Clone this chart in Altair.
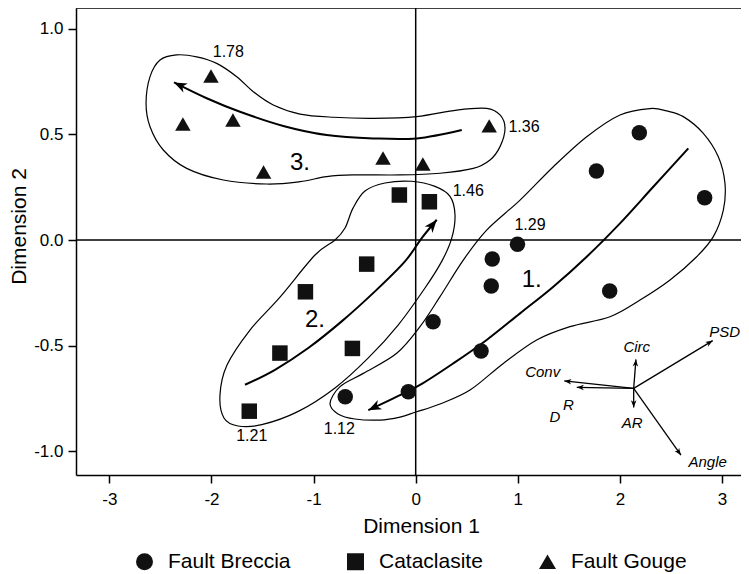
import math
import altair as alt
import pandas as pd

# ---------------- data ----------------
X_MIN, X_MAX = -3.327, 3.186
Y_MIN, Y_MAX = -1.112, 1.098
W, H = 665, 467

categories = ["Fault Breccia", "Cataclasite", "Fault Gouge"]

breccia_x = [2.19, 1.77, 2.83, 0.997, 0.75, 0.74, 1.90, 0.17, 0.64, -0.072, -0.69]
breccia_y = [0.508, 0.327, 0.20, -0.02, -0.09, -0.218, -0.241, -0.387, -0.525, -0.718, -0.742]

catacl_x = [-0.16, 0.134, -0.48, -1.08, -1.33, -0.62, -1.63]
catacl_y = [0.213, 0.181, -0.114, -0.245, -0.535, -0.513, -0.81]

gouge_x = [-2.005, -2.28, -1.79, -1.49, -0.32, 0.07, 0.72]
gouge_y = [0.776, 0.549, 0.568, 0.322, 0.388, 0.36, 0.54]

# group outlines (closed curves)
hull3_x = [-2.641, -2.602, -2.504, -2.341, -2.145, -1.949, -1.753, -1.591, -1.395, -1.133,
           -0.807, -0.415, 0.010, 0.402, 0.695, 0.826, 0.875, 0.826, 0.728, 0.564,
           0.238, -0.154, -0.611, -0.872, -1.133, -1.459, -1.884, -2.243, -2.472, -2.602]
hull3_y = [0.647, 0.773, 0.852, 0.876, 0.867, 0.836, 0.773, 0.702, 0.639, 0.596,
           0.581, 0.576, 0.584, 0.615, 0.623, 0.592, 0.529, 0.442, 0.379, 0.339,
           0.316, 0.308, 0.308, 0.300, 0.276, 0.265, 0.284, 0.339, 0.426, 0.536]

hull2_x = [-0.301, -0.039, 0.189, 0.336, 0.385, 0.353, 0.255, 0.091, -0.170, -0.464,
           -0.790, -1.150, -1.508, -1.740, -1.878, -1.917, -1.848, -1.623, -1.329, -0.986,
           -0.790, -0.692, -0.614, -0.497]
hull2_y = [0.270, 0.278, 0.254, 0.207, 0.120, 0.009, -0.101, -0.227, -0.401, -0.558,
           -0.700, -0.811, -0.874, -0.880, -0.842, -0.734, -0.592, -0.426, -0.270, -0.071,
           0.000, 0.057, 0.151, 0.232]

hull1_x = [2.295, 2.001, 1.675, 1.348, 1.022, 0.695, 0.466, 0.238, 0.042, -0.186,
           -0.513, -0.741, -0.839, -0.761, -0.595, -0.350, -0.154, 0.003, 0.238, 0.532,
           0.858, 1.185, 1.511, 1.903, 2.197, 2.491, 2.752, 2.915, 3.013, 3.029,
           2.964, 2.817, 2.621, 2.458]
hull1_y = [0.622, 0.592, 0.489, 0.347, 0.189, 0.047, -0.095, -0.268, -0.410, -0.536,
           -0.631, -0.694, -0.773, -0.823, -0.847, -0.852, -0.838, -0.814, -0.776, -0.710,
           -0.584, -0.473, -0.410, -0.363, -0.284, -0.189, -0.079, 0.016, 0.142, 0.268,
           0.394, 0.505, 0.584, 0.611]

# trend arrows (last point = arrow tip)
arrow3_x = [0.451, 0.010, -0.415, -0.872, -1.297, -1.721, -2.047, -2.367]
arrow3_y = [0.521, 0.481, 0.481, 0.497, 0.540, 0.607, 0.671, 0.746]
arrow2_x = [-1.672, -1.378, -1.052, -0.725, -0.399, -0.105, 0.059, 0.206]
arrow2_y = [-0.685, -0.614, -0.511, -0.385, -0.243, -0.101, 0.009, 0.096]
arrow1_x = [2.670, 2.327, 2.001, 1.675, 1.348, 1.022, 0.695, 0.368, 0.042, -0.219, -0.464]
arrow1_y = [0.434, 0.252, 0.079, -0.079, -0.221, -0.347, -0.473, -0.584, -0.686, -0.749, -0.805]

# biplot vectors
vec_origin = (2.135, -0.702)
vec_names = ["PSD", "Circ", "Conv", "DR", "AR", "Angle"]
vec_x = [2.909, 2.157, 1.455, 1.577, 2.135, 2.598]
vec_y = [-0.476, -0.565, -0.667, -0.697, -0.792, -1.018]

vec_label_text = ["PSD", "Circ", "Conv", "D", "R", "AR", "Angle"]
vec_label_x = [3.025, 2.165, 1.244, 1.364, 1.495, 2.121, 2.860]
vec_label_y = [-0.434, -0.508, -0.626, -0.836, -0.781, -0.865, -1.049]

value_labels = ["1.78", "1.36", "1.46", "1.29", "1.21", "1.12"]
value_x = [-1.835, 1.061, 0.515, 1.119, -1.606, -0.748]
value_y = [0.891, 0.536, 0.233, 0.071, -0.928, -0.896]

group_labels = ["3.", "2.", "1."]
group_x = [-1.133, -0.986, 1.136]
group_y = [0.363, -0.377, -0.189]

x_ticks = [-3, -2, -1, 0, 1, 2, 3]
y_ticks = [-1.0, -0.5, 0.0, 0.5, 1.0]

# ---------------- tables ----------------
pts = pd.DataFrame(
    [{"x": a, "y": b, "type": categories[0]} for a, b in zip(breccia_x, breccia_y)]
    + [{"x": a, "y": b, "type": categories[1]} for a, b in zip(catacl_x, catacl_y)]
    + [{"x": a, "y": b, "type": categories[2]} for a, b in zip(gouge_x, gouge_y)]
)

hull_rows = []
for hid, (hx, hy) in enumerate([(hull1_x, hull1_y), (hull2_x, hull2_y), (hull3_x, hull3_y)]):
    for i, (a, b) in enumerate(zip(hx, hy)):
        hull_rows.append({"g": hid, "i": i, "x": a, "y": b})
hulls = pd.DataFrame(hull_rows)

arrow_rows = []
sx = W / (X_MAX - X_MIN)
sy = H / (Y_MAX - Y_MIN)


def head_angle(x0, y0, x1, y1):
    ang = math.degrees(math.atan2((x1 - x0) * sx, (y1 - y0) * sy))
    return ang % 360


heads_big = []
for aid, (ax, ay) in enumerate([(arrow1_x, arrow1_y), (arrow2_x, arrow2_y), (arrow3_x, arrow3_y)]):
    for i, (a, b) in enumerate(zip(ax, ay)):
        arrow_rows.append({"g": aid, "i": i, "x": a, "y": b})
    heads_big.append({"x": ax[-1], "y": ay[-1], "ang": head_angle(ax[-2], ay[-2], ax[-1], ay[-1])})
arrows = pd.DataFrame(arrow_rows)
heads_big = pd.DataFrame(heads_big)

vecs = pd.DataFrame({"name": vec_names, "x": [vec_origin[0]] * len(vec_names),
                     "y": [vec_origin[1]] * len(vec_names), "x2": vec_x, "y2": vec_y})
heads_small = pd.DataFrame([{"x": a, "y": b, "ang": head_angle(vec_origin[0], vec_origin[1], a, b)}
                            for a, b in zip(vec_x, vec_y)])

vlabels = pd.DataFrame({"t": vec_label_text, "x": vec_label_x, "y": vec_label_y})
vals = pd.DataFrame({"t": value_labels, "x": value_x, "y": value_y})
groups = pd.DataFrame({"t": group_labels, "x": group_x, "y": group_y})

FONT = "Liberation Sans"
xs = alt.Scale(domain=[X_MIN, X_MAX], nice=False, zero=False)
ys = alt.Scale(domain=[Y_MIN, Y_MAX], nice=False, zero=False)
x_axis = alt.Axis(values=x_ticks, format="d", title="Dimension 1", tickSize=8, labelPadding=8,
                  titlePadding=8, titleX=345,
                  labelExpr="replace(datum.label, '\u2212', '-')")
y_axis = alt.Axis(values=y_ticks, format=".1f", title="Dimension 2", tickSize=8, labelPadding=5,
                  titlePadding=4, titleY=218,
                  labelExpr="replace(datum.label, '\u2212', '-')")


def X(field="x"):
    return alt.X(field, type="quantitative", scale=xs, axis=x_axis)


def Y(field="y"):
    return alt.Y(field, type="quantitative", scale=ys, axis=y_axis)


one = pd.DataFrame({"x": [0.0], "y": [0.0], "top": [Y_MAX]})

vline = alt.Chart(one).mark_rule(color="black", strokeWidth=1.5).encode(x=X("x"))
hline = alt.Chart(one).mark_rule(color="black", strokeWidth=1.5).encode(y=Y("y"))
topline = alt.Chart(one).mark_rule(color="black", strokeWidth=1.5).encode(y=Y("top"))

hull_layer = alt.Chart(hulls).mark_line(
    interpolate="cardinal-closed", color="black", strokeWidth=1.2
).encode(x=X(), y=Y(), detail="g:N", order="i:Q")

arrow_layer = alt.Chart(arrows).mark_line(
    interpolate="cardinal", color="black", strokeWidth=2
).encode(x=X(), y=Y(), detail="g:N", order="i:Q")

HEAD = "M0,0L0.62,1.6L0,1.15L-0.62,1.6Z"
big_heads = alt.Chart(heads_big).mark_point(
    shape=HEAD, filled=True, color="black", size=260, opacity=1
).encode(x=X(), y=Y(), angle=alt.Angle("ang:Q", scale=None))

vec_layer = alt.Chart(vecs).mark_rule(color="black", strokeWidth=1.3).encode(
    x=X(), y=Y(), x2="x2:Q", y2="y2:Q")

small_heads = alt.Chart(heads_small).mark_point(
    shape=HEAD, filled=True, color="black", size=80, opacity=1
).encode(x=X(), y=Y(), angle=alt.Angle("ang:Q", scale=None))

points = alt.Chart(pts).mark_point(filled=True, color="#111111", size=240, opacity=1).encode(
    x=X(), y=Y(),
    shape=alt.Shape("type:N", scale=alt.Scale(domain=categories,
                                              range=["circle", "square", "triangle-up"]),
                    legend=alt.Legend(title=None, orient="none", legendX=58, legendY=543,
                                      direction="horizontal", labelFontSize=21, labelFont=FONT,
                                      labelColor="black", symbolSize=289, symbolFillColor="#111111",
                                      symbolStrokeWidth=0, labelOffset=13, columnPadding=54,
                                      padding=0)))

vlab_layer = alt.Chart(vlabels).mark_text(
    font=FONT, fontSize=15, fontStyle="italic", color="black"
).encode(x=X(), y=Y(), text="t:N")

val_layer = alt.Chart(vals).mark_text(font=FONT, fontSize=16, color="black").encode(
    x=X(), y=Y(), text="t:N")

grp_layer = alt.Chart(groups).mark_text(font=FONT, fontSize=24, color="black").encode(
    x=X(), y=Y(), text="t:N")

chart = alt.layer(
    vline, hline, topline, hull_layer, arrow_layer, big_heads, vec_layer, small_heads,
    points, vlab_layer, val_layer, grp_layer
).properties(
    width=W, height=H,
    autosize=alt.AutoSizeParams(type="none"),
    padding={"left": 68, "top": 0, "right": 0, "bottom": 99},
).configure_view(stroke=None).configure_axis(
    grid=False, domainColor="black", domainWidth=1.5, tickColor="black", tickWidth=1.5,
    labelColor="black", labelFont=FONT, labelFontSize=17, titleFont=FONT, titleFontSize=21,
    titleFontWeight="normal", titleColor="black"
)

chart.save("out.html", embed_options={"renderer": "svg", "actions": False})
